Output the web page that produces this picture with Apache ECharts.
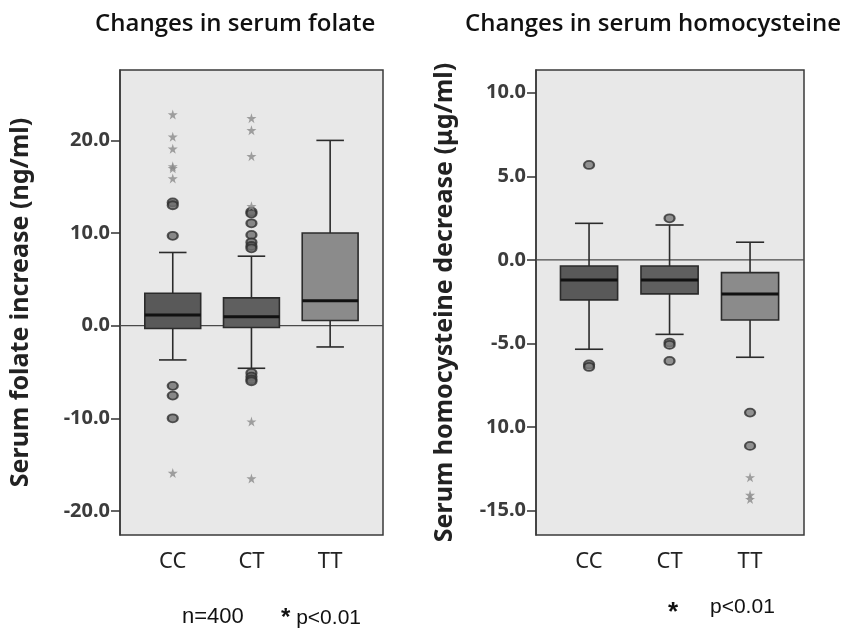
<!DOCTYPE html>
<html>
<head>
<meta charset="utf-8">
<script src="https://cdn.jsdelivr.net/npm/echarts@6/dist/echarts.min.js"></script>
<style>
  html, body { margin: 0; padding: 0; background: #fff; }
  #main { width: 841px; height: 628px; }
</style>
</head>
<body>
<div id="main"></div>
<script>
// genotype groups
var categories = ['CC', 'CT', 'TT'];

// serum folate: [min whisker, Q1, median, Q3, max whisker]
var folateBox = [
  [-3.7, -0.3, 1.15, 3.5, 7.9],
  [-4.6, -0.2, 0.95, 3.0, 7.5],
  [-2.3, 0.55, 2.7, 10.0, 20.0]
];
var folateCircles = [
  [0, 13.3], [0, 13.0], [0, 9.7], [0, -6.5], [0, -7.55], [0, -10.0],
  [1, 12.3], [1, 12.1], [1, 11.05], [1, 9.8], [1, 9.0], [1, 8.6], [1, 8.35],
  [1, -5.1], [1, -5.5], [1, -5.8], [1, -6.0]
];
var folateStars = [
  [0, 22.8], [0, 20.4], [0, 19.1], [0, 17.2], [0, 17.0], [0, 15.9], [0, -15.9],
  [1, 22.4], [1, 21.1], [1, 18.3], [1, 12.9], [1, -10.35], [1, -16.5]
];
var folateTicks = [-20, -10, 0, 10, 20];

// serum homocysteine
var homoBox = [
  [-5.34, -2.39, -1.2, -0.36, 2.19],
  [-4.45, -2.03, -1.2, -0.36, 2.09],
  [-5.82, -3.59, -2.03, -0.76, 1.06]
];
var homoCircles = [
  [0, 5.68], [0, -6.25], [0, -6.4],
  [1, 2.49], [1, -4.94], [1, -5.08], [1, -6.04],
  [2, -9.13], [2, -11.12]
];
var homoStars = [[2, -13.0], [2, -14.05], [2, -14.3]];
var homoTicks = [-15, -10, -5, 0, 5, 10];

var boxFill = ['#595959', '#5f5f5f', '#8b8b8b'];
var starPath = 'path://M50,0 L61,35 L98,35 L68,57 L79,91 L50,70 L21,91 L32,57 L2,35 L39,35 Z';

(function(){
  var myChart = echarts.init(document.getElementById('main'));

  function boxItem(params, api) {
    var x = api.value(0);
    var band = api.size([1, 0])[0];
    var hw = band * 0.355;
    var cw = band * 0.175;
    var pMin = api.coord([x, api.value(1)]);
    var pQ1 = api.coord([x, api.value(2)]);
    var pMed = api.coord([x, api.value(3)]);
    var pQ3 = api.coord([x, api.value(4)]);
    var pMax = api.coord([x, api.value(5)]);
    var cx = pMed[0];
    var line = { stroke: '#2b2b2b', lineWidth: 1.6 };
    return {
      type: 'group',
      children: [
        { type: 'line', shape: { x1: cx, y1: pMax[1], x2: cx, y2: pQ3[1] }, style: line },
        { type: 'line', shape: { x1: cx, y1: pQ1[1], x2: cx, y2: pMin[1] }, style: line },
        { type: 'line', shape: { x1: cx - cw, y1: pMax[1], x2: cx + cw, y2: pMax[1] }, style: line },
        { type: 'line', shape: { x1: cx - cw, y1: pMin[1], x2: cx + cw, y2: pMin[1] }, style: line },
        { type: 'rect', shape: { x: cx - hw, y: pQ3[1], width: hw * 2, height: pQ1[1] - pQ3[1] },
          style: { fill: boxFill[x], stroke: '#2b2b2b', lineWidth: 1.6 } },
        { type: 'line', shape: { x1: cx - hw, y1: pMed[1], x2: cx + hw, y2: pMed[1] },
          style: { stroke: '#111', lineWidth: 3 } }
      ]
    };
  }

  function boxData(rows) {
    return rows.map(function (r, i) { return [i].concat(r); });
  }

  var yLabel = { fontSize: 20, fontWeight: 'bold', color: '#3c3c3c', fontFamily: 'Noto Sans', margin: 10 };
  var nameStyle = { fontSize: 25, fontWeight: 'bold', color: '#222', fontFamily: 'Noto Sans' };
  var titleStyle = { fontFamily: 'Open Sans', fontSize: 24, fontWeight: 600, color: '#111' };
  var catAxis = {
    type: 'category', data: categories,
    axisLine: { show: false },
    axisTick: { alignWithLabel: true, length: 11, lineStyle: { color: '#333', width: 1.5 } },
    axisLabel: { fontSize: 22, color: '#222', fontFamily: 'Noto Sans', margin: 16 }
  };

  var option = {
    backgroundColor: '#fff',
    animation: false,
    title: [
      { text: 'Changes in serum folate', left: 90, top: 7, textStyle: titleStyle },
      { text: 'Changes in serum homocysteine', left: 460, top: 7, textStyle: titleStyle },
      { text: 'n=400', left: 177, top: 601,
        textStyle: { fontFamily: 'Liberation Sans', fontSize: 22, fontWeight: 'normal', color: '#111' } },
      { text: '{a|*} p<0.01', left: 276, top: 601,
        textStyle: { fontFamily: 'Liberation Sans', fontSize: 21, fontWeight: 'normal', color: '#111',
          rich: { a: { fontFamily: 'Liberation Sans', fontSize: 24, fontWeight: 'bold', color: '#111' } } } },
      { text: '*', left: 663, top: 595,
        textStyle: { fontFamily: 'Liberation Sans', fontSize: 26, fontWeight: 'bold', color: '#111' } },
      { text: 'p<0.01', left: 705, top: 592,
        textStyle: { fontFamily: 'Liberation Sans', fontSize: 21, fontWeight: 'normal', color: '#111' } }
    ],
    grid: [
      { left: 120, top: 70, width: 263, height: 465, show: true, backgroundColor: '#e8e8e8', borderColor: '#3a3a3a', borderWidth: 1.5 },
      { left: 133.4, top: 70, width: 236.1, height: 465 },
      { left: 536, top: 70, width: 268, height: 465, show: true, backgroundColor: '#e8e8e8', borderColor: '#3a3a3a', borderWidth: 1.5 },
      { left: 548.8, top: 70, width: 241.5, height: 465 }
    ],
    xAxis: [
      { gridIndex: 0, type: 'value', min: 0, max: 1, show: false },
      Object.assign({ gridIndex: 1 }, catAxis),
      { gridIndex: 2, type: 'value', min: 0, max: 1, show: false },
      Object.assign({ gridIndex: 3 }, catAxis)
    ],
    yAxis: [
      {
        gridIndex: 0, type: 'value', min: -22.6, max: 27.6,
        name: 'Serum folate increase (ng/ml)', nameLocation: 'middle', nameGap: 87, nameTextStyle: nameStyle,
        splitLine: { show: false },
        axisLine: { show: true, lineStyle: { color: '#3a3a3a', width: 1.5 } },
        axisTick: { show: true, length: 9, customValues: folateTicks, lineStyle: { color: '#333', width: 1.5 } },
        axisLabel: Object.assign({ customValues: folateTicks, formatter: function (v) { return v.toFixed(1); } }, yLabel)
      },
      { gridIndex: 1, type: 'value', min: -22.6, max: 27.6, show: false, splitLine: { show: false } },
      {
        gridIndex: 2, type: 'value', min: -16.45, max: 11.36,
        name: 'Serum homocysteine decrease (\u03bcg/ml)', nameLocation: 'middle', nameGap: 79, nameTextStyle: nameStyle,
        splitLine: { show: false },
        axisLine: { show: true, lineStyle: { color: '#3a3a3a', width: 1.5 } },
        axisTick: { show: true, length: 9, customValues: homoTicks, lineStyle: { color: '#333', width: 1.5 } },
        axisLabel: Object.assign({ customValues: homoTicks, formatter: function (v) {
          // the source figure prints the -10 tick without its minus sign
          return v === -10 ? '10.0' : v.toFixed(1);
        } }, yLabel)
      },
      { gridIndex: 3, type: 'value', min: -16.45, max: 11.36, show: false, splitLine: { show: false } }
    ],
    series: [
      { type: 'line', xAxisIndex: 0, yAxisIndex: 0, data: [[0, 0], [1, 0]], symbol: 'none', silent: true, z: 1,
        lineStyle: { color: '#4a4a4a', width: 1.3 } },
      { type: 'line', xAxisIndex: 2, yAxisIndex: 2, data: [[0, 0], [1, 0]], symbol: 'none', silent: true, z: 1,
        lineStyle: { color: '#4a4a4a', width: 1.3 } },
      { type: 'custom', xAxisIndex: 1, yAxisIndex: 1, renderItem: boxItem, data: boxData(folateBox),
        encode: { x: 0, y: [1, 2, 3, 4, 5] }, z: 3 },
      { type: 'custom', xAxisIndex: 3, yAxisIndex: 3, renderItem: boxItem, data: boxData(homoBox),
        encode: { x: 0, y: [1, 2, 3, 4, 5] }, z: 3 },
      { type: 'scatter', xAxisIndex: 1, yAxisIndex: 1, data: folateCircles, symbol: 'circle', symbolSize: [10, 8], z: 4,
        itemStyle: { color: '#6e6e6e', borderColor: '#2e2e2e', borderWidth: 2 } },
      { type: 'scatter', xAxisIndex: 3, yAxisIndex: 3, data: homoCircles, symbol: 'circle', symbolSize: [10, 8], z: 4,
        itemStyle: { color: '#7a7a7a', borderColor: '#2e2e2e', borderWidth: 2 } },
      { type: 'scatter', xAxisIndex: 1, yAxisIndex: 1, data: folateStars, symbol: starPath, symbolSize: 10, z: 4,
        itemStyle: { color: '#8a8a8a' } },
      { type: 'scatter', xAxisIndex: 3, yAxisIndex: 3, data: homoStars, symbol: starPath, symbolSize: 10, z: 4,
        itemStyle: { color: '#8a8a8a' } }
    ]
  };

  myChart.setOption(option);
  window.addEventListener('resize', function () {
    myChart.resize();
  });
})();
</script>
</body>
</html>
